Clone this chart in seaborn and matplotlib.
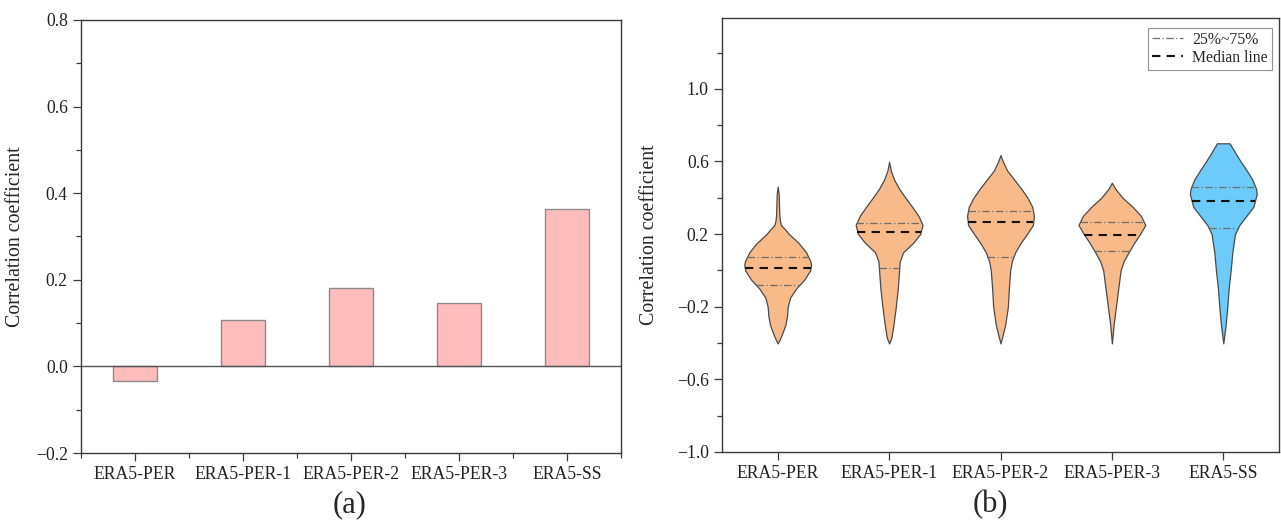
import numpy as np
import pandas as pd
import matplotlib
matplotlib.use("Agg")
import matplotlib.pyplot as plt
from matplotlib.lines import Line2D
from matplotlib.ticker import MultipleLocator, FixedLocator
import seaborn as sns

# ---------------- data ----------------
categories = ["ERA5-PER", "ERA5-PER-1", "ERA5-PER-2", "ERA5-PER-3", "ERA5-SS"]
bar_values = [-0.034, 0.107, 0.182, 0.147, 0.363]

# violin outlines: y levels and relative density (1 = widest)
per_y = [0.461, 0.42, 0.35, 0.30, 0.27, 0.25, 0.23, 0.20, 0.15, 0.10, 0.05, 0.03, 0.0,
         -0.05, -0.10, -0.15, -0.20, -0.25, -0.30, -0.35, -0.38, -0.402]
per_d = [0.0, 0.03, 0.04, 0.05, 0.07, 0.10, 0.20, 0.34, 0.63, 0.85, 0.98, 1.0, 0.97,
         0.80, 0.55, 0.37, 0.30, 0.28, 0.23, 0.13, 0.06, 0.0]

per1_y = [0.598, 0.55, 0.50, 0.45, 0.40, 0.35, 0.30, 0.25, 0.20, 0.15, 0.10, 0.05, 0.0,
          -0.10, -0.20, -0.30, -0.37, -0.402]
per1_d = [0.0, 0.05, 0.15, 0.30, 0.49, 0.69, 0.88, 1.0, 0.93, 0.71, 0.42, 0.32, 0.30,
          0.26, 0.20, 0.13, 0.07, 0.0]

per2_y = [0.635, 0.60, 0.55, 0.50, 0.45, 0.40, 0.35, 0.30, 0.25, 0.20, 0.15, 0.10, 0.05,
          0.0, -0.10, -0.20, -0.30, -0.36, -0.402]
per2_d = [0.0, 0.07, 0.20, 0.41, 0.62, 0.81, 0.95, 1.0, 0.97, 0.79, 0.60, 0.44, 0.34,
          0.29, 0.25, 0.22, 0.14, 0.06, 0.0]

per3_y = [0.483, 0.45, 0.40, 0.35, 0.30, 0.25, 0.20, 0.15, 0.10, 0.05, 0.0, -0.10,
          -0.20, -0.30, -0.402]
per3_d = [0.0, 0.10, 0.32, 0.62, 0.87, 1.0, 0.84, 0.66, 0.50, 0.35, 0.26, 0.19,
          0.12, 0.05, 0.0]

ss_y = [0.70, 0.65, 0.60, 0.55, 0.50, 0.45, 0.42, 0.35, 0.30, 0.25, 0.20, 0.10, 0.0,
        -0.10, -0.20, -0.30, -0.402]
ss_d = [0.19, 0.35, 0.52, 0.70, 0.87, 0.98, 1.0, 0.90, 0.69, 0.48, 0.35, 0.27, 0.22,
        0.16, 0.12, 0.07, 0.0]

q25 = [-0.083, 0.016, 0.075, 0.108, 0.231]
medians = [0.016, 0.213, 0.268, 0.196, 0.384]
q75 = [0.075, 0.259, 0.328, 0.264, 0.461]

violin_y = [per_y, per1_y, per2_y, per3_y, ss_y]
violin_d = [per_d, per1_d, per2_d, per3_d, ss_d]

# ---------------- style ----------------
sns.set_theme(style="ticks")
plt.rcParams["font.family"] = ["Liberation Serif", "DejaVu Serif"]
plt.rcParams["axes.unicode_minus"] = True

W, H = 1281, 522
fig = plt.figure(figsize=(W / 100, H / 100), dpi=100)
axA = fig.add_axes([81 / W, 1 - 453 / H, (621 - 81) / W, (453 - 20) / H])
axB = fig.add_axes([722 / W, 1 - 452 / H, (1279 - 722) / W, (452 - 18) / H])

spine_c = "#3a3a3a"
for ax in (axA, axB):
    for s in ax.spines.values():
        s.set_color(spine_c)
        s.set_linewidth(1.0)
    ax.tick_params(axis="both", which="major", direction="out", length=6, width=0.9,
                   color=spine_c, labelsize=12.7, labelcolor="#222222")
    ax.tick_params(axis="both", which="minor", direction="out", length=3.5, width=0.9,
                   color=spine_c)

# ---------------- panel (a): bars ----------------
df = pd.DataFrame({"cat": categories, "val": bar_values})
sns.barplot(data=df, x="cat", y="val", ax=axA, color="#FFBCBC", width=0.4,
            edgecolor="#8a8a8a", linewidth=1.0, saturation=1)
axA.axhline(0, color="#555555", lw=1.0, zorder=1)
axA.set_xlim(-0.5, 4.5)
axA.set_ylim(-0.2, 0.8)
axA.yaxis.set_major_locator(MultipleLocator(0.2))
axA.yaxis.set_minor_locator(MultipleLocator(0.1))
axA.xaxis.set_minor_locator(FixedLocator(np.arange(-0.5, 5.0, 1.0)))
axA.set_yticklabels([f"{v:.1f}".replace("-", "\u2212") for v in axA.get_yticks()])
axA.set_xlabel("")
axA.set_ylabel("Correlation coefficient", fontsize=14.3)
axA.yaxis.set_label_coords(-0.103, 0.5)

# ---------------- panel (b): violins ----------------
max_half = 0.30
colors = ["#F8BA88", "#F8BA88", "#F8BA88", "#F8BA88", "#6CCBFA"]
for i, (ys, ds) in enumerate(zip(violin_y, violin_d)):
    ys = np.asarray(ys)
    ds = np.asarray(ds)
    axB.fill_betweenx(ys, i - max_half * ds, i + max_half * ds, facecolor=colors[i],
                      edgecolor="#4a4a4a", linewidth=0.9, zorder=2)
    order = np.argsort(ys)
    for q, style, c, lw in ((q25[i], (0, (6, 2, 1, 2)), "#6e6e6e", 0.9),
                            (q75[i], (0, (6, 2, 1, 2)), "#6e6e6e", 0.9),
                            (medians[i], (0, (4, 3)), "#111111", 1.5)):
        hw = max_half * np.interp(q, ys[order], ds[order])
        axB.plot([i - hw, i + hw], [q, q], linestyle=style, color=c, lw=lw, zorder=3)

axB.set_xlim(-0.5, 4.5)
axB.set_ylim(-1.0, 1.39)
axB.set_xticks(range(len(categories)))
axB.set_xticklabels(categories)
axB.yaxis.set_major_locator(FixedLocator([-1.0, -0.6, -0.2, 0.2, 0.6, 1.0]))
axB.yaxis.set_minor_locator(FixedLocator([-0.8, -0.4, 0.0, 0.4, 0.8, 1.2]))
axB.set_yticklabels([f"{v:.1f}".replace("-", "\u2212") for v in [-1.0, -0.6, -0.2, 0.2, 0.6, 1.0]])
axB.set_ylabel("Correlation coefficient", fontsize=14.3)
axB.yaxis.set_label_coords(-0.113, 0.5)

handles = [Line2D([], [], color="#6e6e6e", lw=0.9, linestyle=(0, (6, 2, 1, 2))),
           Line2D([], [], color="#111111", lw=1.5, linestyle=(0, (4, 3)))]
leg = axB.legend(handles, ["25%~75%", "Median line"], loc="upper right",
                 fontsize=11.3, frameon=True, fancybox=False, handlelength=2.0,
                 handletextpad=0.6, borderpad=0.25, labelspacing=0.12,
                 borderaxespad=0.0, bbox_to_anchor=(0.9874, 0.977))
leg.get_frame().set_edgecolor("#777777")
leg.get_frame().set_linewidth(0.8)

fig.text(350 / W, 1 - 505 / H, "(a)", ha="center", va="center", fontsize=22)
fig.text(990 / W, 1 - 505 / H, "(b)", ha="center", va="center", fontsize=22)

fig.savefig("out.png", dpi=100)
